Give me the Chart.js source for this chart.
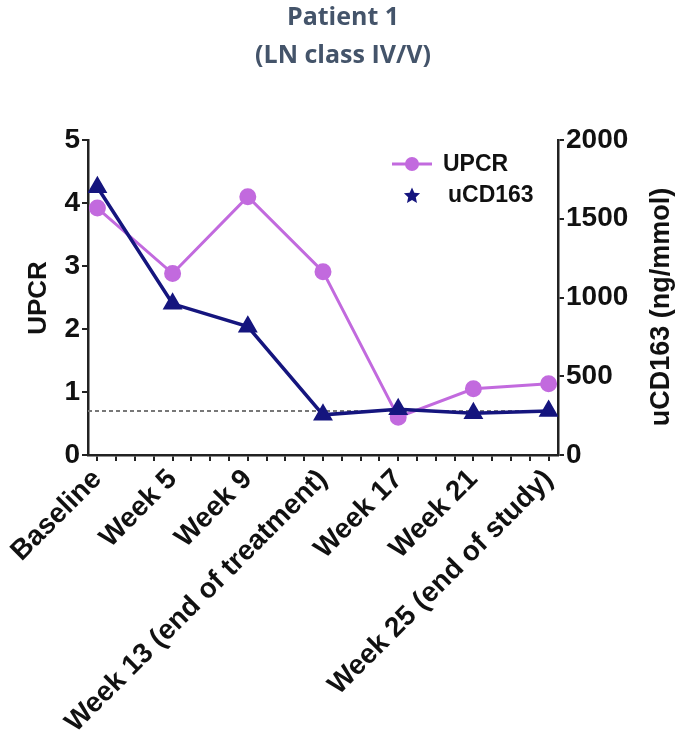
<!DOCTYPE html>
<html>
<head>
<meta charset="utf-8">
<script src="https://cdn.jsdelivr.net/npm/chart.js@4.4.1/dist/chart.umd.min.js"></script>
<style>
  html, body { margin: 0; padding: 0; background: #ffffff; }
  #wrap { width: 685px; height: 749px; position: relative; }
</style>
</head>
<body>
<div id="wrap"><canvas id="c" width="685" height="749"></canvas></div>
<script>
// ---- data ----
const weeks = [1, 5, 9, 13, 17, 21, 25];
const weekLabels = ["Baseline", "Week 5", "Week 9", "Week 13 (end of treatment)", "Week 17", "Week 21", "Week 25 (end of study)"];
const upcr = [3.92, 2.88, 4.1, 2.91, 0.6, 1.05, 1.13];
const ucd163 = [1700, 960, 815, 255, 290, 265, 280];
const threshold = 0.7;
const leftTicks = [0, 1, 2, 3, 4, 5];
const rightTicks = [0, 500, 1000, 1500, 2000];

const VIOLET = '#c26ade';
const NAVY = '#15157e';
const AXIS = '#222222';
const FONT = '"Liberation Sans", Arial, sans-serif';

const labelFor = {};
weeks.forEach((w, i) => labelFor[w] = weekLabels[i]);

const overlay = {
  id: 'overlay',
  afterDraw(chart) {
    const ctx = chart.ctx;
    ctx.save();
    // title
    ctx.fillStyle = '#44546a';
    ctx.font = 'bold 25px "Open Sans", sans-serif';
    ctx.textAlign = 'center';
    ctx.textBaseline = 'alphabetic';
    ctx.fillText('Patient 1', 343, 25);
    ctx.fillText('(LN class IV/V)', 343, 63);
    // axis titles
    ctx.fillStyle = '#111';
    ctx.font = 'bold 26px ' + FONT;
    ctx.textBaseline = 'middle';
    ctx.save();
    ctx.translate(39, 298);
    ctx.rotate(-Math.PI / 2);
    ctx.fillText('UPCR', 0, 0);
    ctx.restore();
    ctx.font = 'bold 27px ' + FONT;
    ctx.save();
    ctx.translate(662, 307);
    ctx.rotate(-Math.PI / 2);
    ctx.fillText('uCD163 (ng/mmol)', 0, 0);
    ctx.restore();
    // legend
    ctx.strokeStyle = VIOLET;
    ctx.lineWidth = 3;
    ctx.beginPath();
    ctx.moveTo(392, 164); ctx.lineTo(432, 164);
    ctx.stroke();
    ctx.fillStyle = VIOLET;
    ctx.beginPath();
    ctx.arc(412, 164, 7, 0, Math.PI * 2);
    ctx.fill();
    // star
    ctx.fillStyle = NAVY;
    ctx.beginPath();
    const cx = 412, cy = 196, R = 8.5, r = 4;
    for (let k = 0; k < 10; k++) {
      const a = -Math.PI / 2 + k * Math.PI / 5;
      const rr = (k % 2 === 0) ? R : r;
      const px = cx + rr * Math.cos(a), py = cy + rr * Math.sin(a);
      if (k === 0) ctx.moveTo(px, py); else ctx.lineTo(px, py);
    }
    ctx.closePath();
    ctx.fill();
    ctx.fillStyle = '#111';
    ctx.font = 'bold 23px ' + FONT;
    ctx.textAlign = 'left';
    ctx.textBaseline = 'middle';
    ctx.fillText('UPCR', 443, 165);
    ctx.fillText('uCD163', 448, 196);
    ctx.restore();
  }
};

new Chart(document.getElementById('c'), {
  type: 'line',
  data: {
    datasets: [
      {
        label: 'uCD163',
        data: weeks.map((w, i) => ({ x: w, y: ucd163[i] })),
        yAxisID: 'y2',
        borderColor: NAVY,
        backgroundColor: NAVY,
        borderWidth: 3.5,
        pointStyle: 'triangle',
        pointRadius: 8,
        pointHoverRadius: 8,
        order: 0
      },
      {
        label: 'UPCR',
        data: weeks.map((w, i) => ({ x: w, y: upcr[i] })),
        yAxisID: 'y',
        borderColor: VIOLET,
        backgroundColor: VIOLET,
        borderWidth: 3,
        pointStyle: 'circle',
        pointRadius: 7,
        pointHoverRadius: 7,
        order: 1
      },
      {
        label: 'threshold',
        data: [{ x: 0.5, y: threshold }, { x: 25, y: threshold }],
        yAxisID: 'y',
        borderColor: '#777',
        borderWidth: 2,
        borderDash: [4, 3],
        pointRadius: 0,
        order: 2
      }
    ]
  },
  options: {
    responsive: false,
    animation: false,
    events: [],
    layout: { padding: { top: 140, left: 0, right: 0, bottom: 0 } },
    plugins: { legend: { display: false }, tooltip: { enabled: false }, title: { display: false } },
    scales: {
      x: {
        type: 'linear',
        min: 0.5,
        max: 25.5,
        afterBuildTicks(scale) {
          const t = [];
          for (let w = 1; w <= 25; w++) t.push({ value: w });
          scale.ticks = t;
        },
        afterFit(scale) { scale.height = 294; },
        grid: { display: true, drawOnChartArea: false, drawTicks: true, tickLength: 6, color: AXIS, lineWidth: 2 },
        border: { display: true, color: AXIS, width: 2.5 },
        ticks: {
          autoSkip: false,
          minRotation: 45,
          maxRotation: 45,
          padding: 2,
          color: '#111',
          font: { family: FONT, size: 28, weight: 'bold' },
          callback: (v) => labelFor[v] || ''
        }
      },
      y: {
        type: 'linear',
        position: 'left',
        min: 0,
        max: 5,
        afterBuildTicks(scale) { scale.ticks = leftTicks.map(v => ({ value: v })); },
        afterFit(scale) { scale.width = 88; },
        grid: { display: true, drawOnChartArea: false, drawTicks: true, tickLength: 6, color: AXIS, lineWidth: 2 },
        border: { display: true, color: AXIS, width: 2.5 },
        ticks: { padding: 2, color: '#111', font: { family: FONT, size: 28, weight: 'bold' }, callback: (v) => String(v) }
      },
      y2: {
        type: 'linear',
        position: 'right',
        min: 0,
        max: 2000,
        afterBuildTicks(scale) { scale.ticks = rightTicks.map(v => ({ value: v })); },
        afterFit(scale) { scale.width = 127; },
        grid: { display: true, drawOnChartArea: false, drawTicks: true, tickLength: 6, color: AXIS, lineWidth: 2 },
        border: { display: true, color: AXIS, width: 2.5 },
        ticks: { padding: 2, color: '#111', font: { family: FONT, size: 28, weight: 'bold' }, callback: (v) => String(v) }
      }
    }
  },
  plugins: [overlay]
});
</script>
</body>
</html>
